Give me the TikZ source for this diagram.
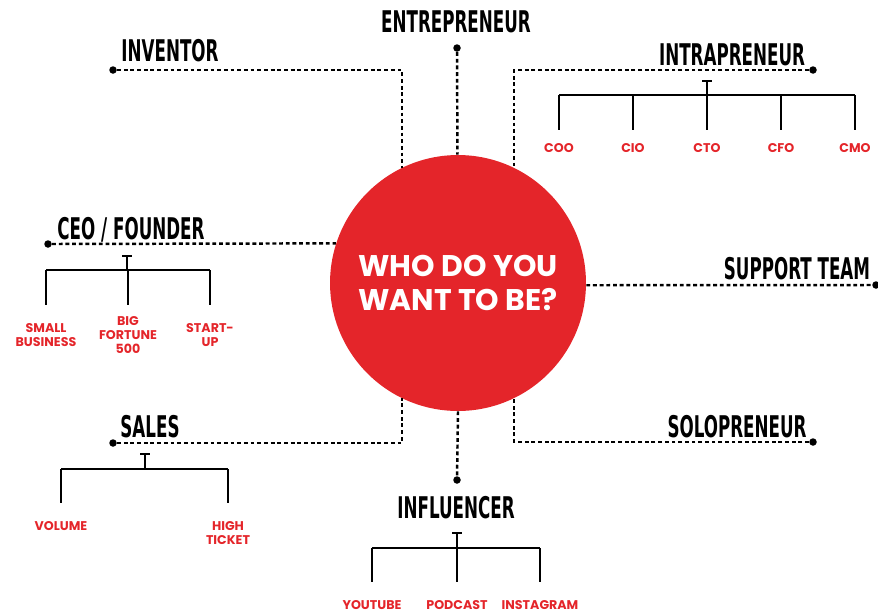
\documentclass[tikz,border=0pt]{standalone}
\usepackage{fontspec}
\usepackage{xcolor}
\usetikzlibrary{positioning,calc,arrows.meta}
\newfontfamily\headfont{DejaVu Sans}
\newfontfamily\leaffont{Poppins}
\definecolor{hubred}{HTML}{E4252A}
\newcommand{\narrow}[1]{\scalebox{0.56}[1]{#1}}

\begin{document}
\begin{tikzpicture}[x=0.02cm, y=-0.02cm,
    head/.style={font=\headfont\bfseries\fontsize{17}{17}\selectfont, inner sep=0pt, text depth=0pt},
    leaf/.style={font=\leaffont\bfseries\fontsize{7.2}{8.2}\selectfont, text=hubred, align=center, inner sep=0pt},
    pin/.style={circle, fill=black, inner sep=0pt, minimum size=1.5mm},
    dotline/.style={line width=1.4pt, dash pattern=on 2.2pt off 1.6pt},
    branch/.style={line width=1.1pt},
    tee/.style={branch, {Bar[width=5.5pt]}-}]
    \useasboundingbox (0,0) rectangle (878,613);

    % Centre
    \node[circle, fill=hubred, minimum size=5.12cm, inner sep=0pt, text=white, align=center,
          font=\leaffont\bfseries\fontsize{17}{19.5}\selectfont] (hub) at (458,283) {WHO DO YOU\\WANT TO BE?};

    % Entrepreneur
    \node[head] (entreT) at (456,22) {\narrow{ENTREPRENEUR}};
    \node[pin] (entre) at (457,48) {};
    \draw[dotline] (entre) -- (hub);

    % Inventor
    \node[head] (invT) at (170,50) {\narrow{INVENTOR}};
    \node[pin] (inv) at (113,70) {};
    \draw[dotline] (inv) -| (hub.116);

    % Intrapreneur
    \node[head] (intraT) at (732,55) {\narrow{INTRAPRENEUR}};
    \node[pin] (intra) at (813,70) {};
    \draw[dotline] (intra) -| (hub.64);
    \foreach \n/\x/\t in {coo/559/COO, cio/633/CIO, cto/707/CTO, cfo/781/CFO, cmo/855/CMO}
        \node[leaf] (\n) at (\x,148) {\t};
    \coordinate (intraTop) at (707,80);
    \coordinate (intraJ) at (707,95);
    \coordinate (intraB) at (707,130);
    \draw[tee] (intraTop) -- (intraJ);
    \draw[branch] (intraJ -| coo) -- (intraJ -| cmo);
    \foreach \n in {coo,cio,cto,cfo,cmo}
        \draw[branch] (intraJ -| \n) -- (intraB -| \n);

    % CEO / Founder
    \node[head] (ceoT) at (131,228) {\narrow{CEO / FOUNDER}};
    \node[pin] (ceo) at (48,244) {};
    \draw[dotline] (ceo) -- (hub.162);
    \node[leaf] (small) at (46,335) {SMALL\\BUSINESS};
    \node[leaf] (big) at (128,335) {BIG\\FORTUNE\\500};
    \node[leaf] (start) at (210,335) {START-\\UP};
    \coordinate (ceoTop) at (127,255);
    \coordinate (ceoJ) at (127,270);
    \coordinate (ceoB) at (127,305);
    \draw[tee] (ceoTop) -- (ceoJ);
    \draw[branch] (ceoJ -| small) -- (ceoJ -| start);
    \foreach \n in {small,big,start}
        \draw[branch] (ceoJ -| \n) -- (ceoB -| \n);

    % Support team
    \node[head] (suppT) at (797,268) {\narrow{SUPPORT TEAM}};
    \node[pin] (supp) at (876,285) {};
    \draw[dotline] (hub.-1) -- (supp);

    % Sales
    \node[head] (salesT) at (150,426) {\narrow{SALES}};
    \node[pin] (sales) at (113,443) {};
    \draw[dotline] (sales) -| (hub.244);
    \node[leaf] (volume) at (61,526) {VOLUME};
    \node[leaf] (high) at (228,533) {HIGH\\TICKET};
    \coordinate (salesTop) at (145,453);
    \coordinate (salesJ) at (145,469);
    \coordinate (salesB) at (145,503);
    \draw[tee] (salesTop) -- (salesJ);
    \draw[branch] (salesJ -| volume) -- (salesJ -| high);
    \foreach \n in {volume,high}
        \draw[branch] (salesJ -| \n) -- (salesB -| \n);

    % Solopreneur
    \node[head] (soloT) at (737,426) {\narrow{SOLOPRENEUR}};
    \node[pin] (solo) at (813,442) {};
    \draw[dotline] (solo) -| (hub.296);

    % Influencer
    \node[pin] (infl) at (457,480) {};
    \draw[dotline] (hub.south) -- (infl);
    \node[head] (inflT) at (456,507) {\narrow{INFLUENCER}};
    \node[leaf] (youtube) at (372,605) {YOUTUBE};
    \node[leaf] (podcast) at (457,605) {PODCAST};
    \node[leaf] (insta) at (540,605) {INSTAGRAM};
    \coordinate (inflTop) at (457,532);
    \coordinate (inflJ) at (457,548);
    \coordinate (inflB) at (457,582);
    \draw[tee] (inflTop) -- (inflJ);
    \draw[branch] (inflJ -| youtube) -- (inflJ -| insta);
    \foreach \n in {youtube,podcast,insta}
        \draw[branch] (inflJ -| \n) -- (inflB -| \n);
\end{tikzpicture}
\end{document}
